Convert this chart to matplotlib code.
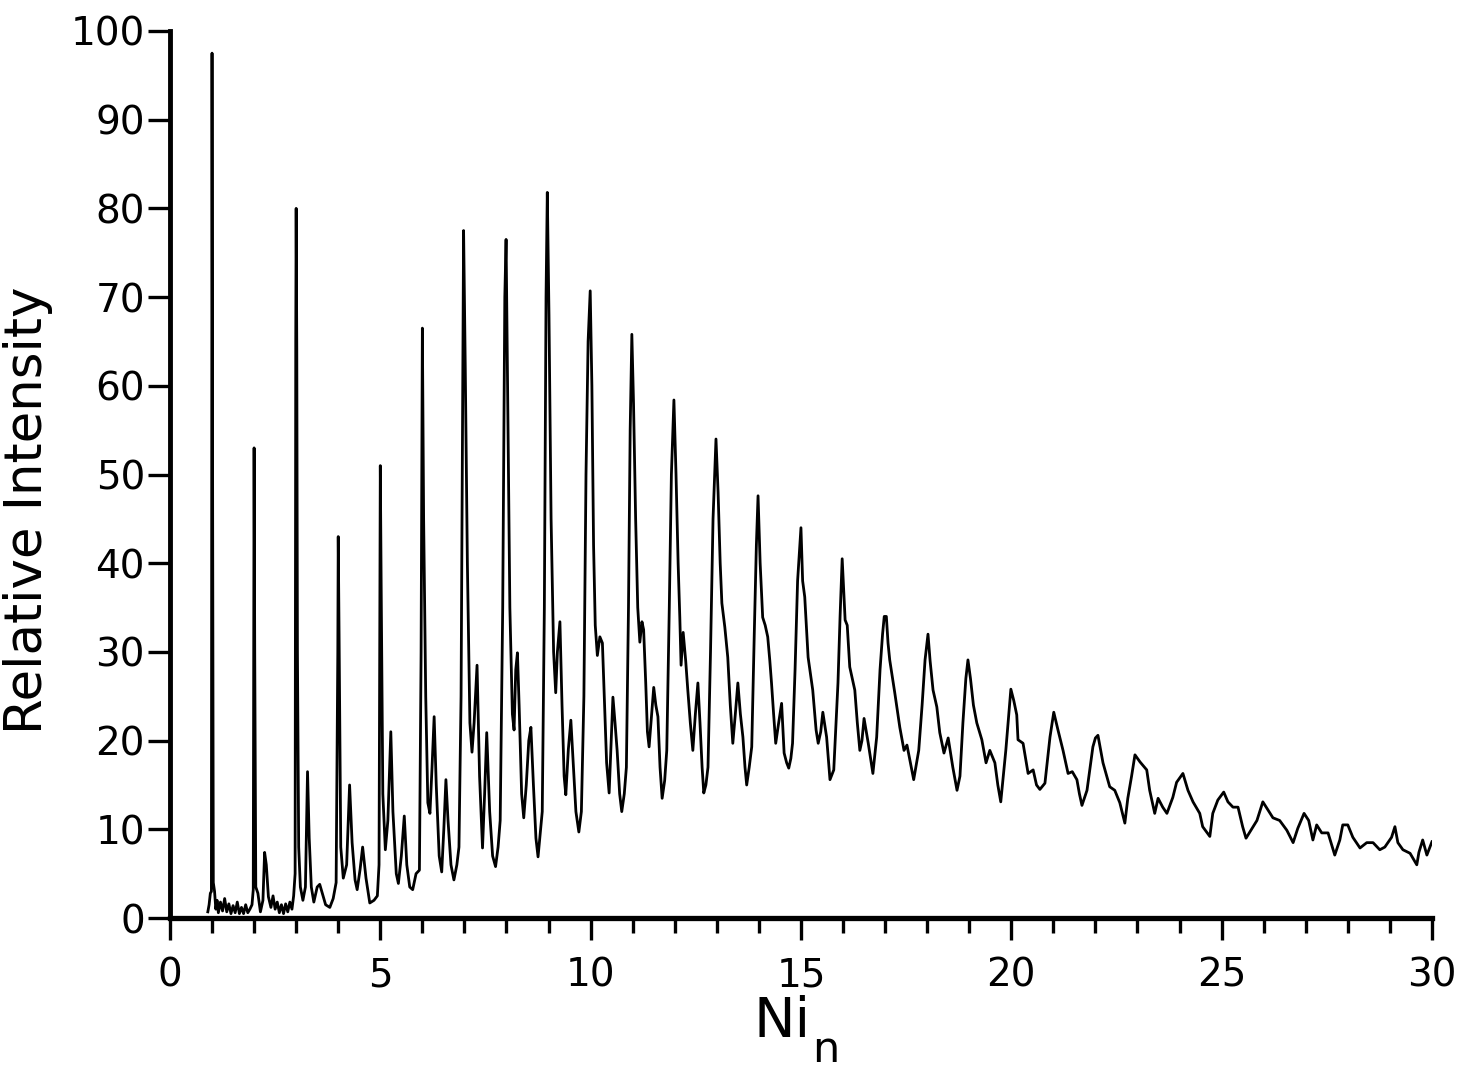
import matplotlib
matplotlib.use("Agg")
import matplotlib.pyplot as plt
from matplotlib.ticker import MultipleLocator

plt.rcParams['font.family'] = ['DejaVu Sans']

# Trace: Ni_1 .. Ni_6
low_x = [0.90, 0.93, 0.96, 0.985, 1.0, 1.015, 1.03, 1.06, 1.09, 1.12, 1.15, 1.2, 1.25, 1.3, 1.35,
         1.4, 1.45, 1.5, 1.55, 1.6, 1.65, 1.7, 1.75, 1.8, 1.85, 1.9, 1.95, 1.98, 2.0, 2.015,
         2.04, 2.09, 2.15, 2.21, 2.25, 2.29, 2.34, 2.4, 2.45, 2.5, 2.55, 2.6, 2.65, 2.7, 2.75,
         2.8, 2.85, 2.9, 2.94, 2.975, 2.99, 3.0, 3.015, 3.03, 3.06, 3.1, 3.16, 3.22, 3.27, 3.31,
         3.36, 3.42, 3.5, 3.56, 3.62, 3.7, 3.8, 3.88, 3.95, 3.99, 4.0, 4.02, 4.06, 4.12, 4.2,
         4.27, 4.33, 4.4, 4.45, 4.52, 4.58, 4.66, 4.75, 4.85, 4.93, 4.97, 5.0, 5.02, 5.06, 5.12,
         5.18, 5.25, 5.3, 5.38, 5.43, 5.5, 5.57, 5.63, 5.7, 5.77, 5.85, 5.93, 5.97]
low_y = [0.7, 1.5, 2.8, 3.0, 97.5, 45, 4.0, 3.0, 1.0, 2.0, 0.6, 1.8, 0.8, 2.2, 0.7,
         1.6, 0.5, 1.4, 0.6, 1.8, 0.5, 1.2, 0.5, 1.5, 0.6, 1.0, 1.5, 3.2, 53, 30,
         3.5, 2.8, 0.7, 2.0, 7.4, 6.0, 2.4, 1.2, 2.5, 1.0, 1.8, 0.6, 1.5, 0.5, 1.6,
         0.7, 1.8, 1.0, 2.5, 5, 65, 80, 64, 30, 8, 3.5, 2.0, 3.5, 16.5, 9,
         3.5, 1.8, 3.5, 3.8, 2.8, 1.5, 1.2, 2.2, 4.0, 30, 43, 32, 8, 4.5, 6,
         15, 8.5, 4.3, 3.2, 5.5, 8, 4.5, 1.7, 2.0, 2.5, 6, 51, 38, 14, 7.7,
         11, 21, 12, 5, 3.9, 7, 11.5, 6, 3.5, 3.2, 5.0, 5.4, 30]

# Ni_6 .. Ni_15
mid_x = [6.0, 6.03, 6.08, 6.13, 6.18, 6.23, 6.28, 6.33, 6.4, 6.46, 6.51, 6.56, 6.61, 6.68, 6.75,
         6.82, 6.87, 6.92, 6.96, 6.98, 7.02, 7.07, 7.13, 7.18, 7.23, 7.3, 7.36, 7.43, 7.48, 7.53,
         7.6, 7.67, 7.74, 7.8, 7.85, 7.91, 7.96, 7.99, 8.03, 8.08, 8.14, 8.18, 8.22, 8.26, 8.3,
         8.36, 8.41, 8.47, 8.53, 8.58, 8.64, 8.7, 8.75, 8.8, 8.85, 8.9, 8.94, 8.97, 9.01, 9.06,
         9.12, 9.17, 9.21, 9.27, 9.32, 9.37, 9.41, 9.47, 9.53, 9.58, 9.65, 9.72, 9.78, 9.84, 9.89,
         9.94, 9.99, 10.03, 10.07, 10.11, 10.16, 10.22, 10.28, 10.34, 10.38, 10.44, 10.49, 10.53,
         10.58, 10.63, 10.69, 10.74, 10.8, 10.85, 10.9, 10.94, 10.98, 11.02, 11.07, 11.12, 11.17,
         11.22, 11.26, 11.31, 11.35, 11.39, 11.45, 11.5, 11.55, 11.6, 11.65, 11.7, 11.76, 11.81,
         11.87, 11.92, 11.98, 12.03, 12.08, 12.12, 12.15, 12.2, 12.26, 12.31, 12.37, 12.43, 12.49,
         12.55, 12.6, 12.65, 12.69, 12.74, 12.79, 12.85, 12.91, 12.98, 13.03, 13.08, 13.12, 13.19,
         13.26, 13.32, 13.38, 13.44, 13.5, 13.56, 13.62, 13.67, 13.71, 13.77, 13.83, 13.89, 13.94,
         13.98, 14.03, 14.09, 14.15, 14.21, 14.26, 14.3, 14.35, 14.4, 14.47, 14.54, 14.6, 14.66,
         14.71, 14.76, 14.8, 14.86, 14.92]
mid_y = [66.5, 45, 25, 13, 11.8, 17, 22.7, 15, 7, 5.2, 10, 15.6, 11, 6, 4.3,
         6, 8, 25, 60, 77.5, 62, 40, 22, 18.7, 22, 28.5, 16, 7.9, 14, 20.9,
         12, 7, 5.8, 8, 11, 35, 70, 76.5, 58, 35, 23, 21.2, 28, 29.9, 24,
         14, 11.3, 15, 20, 21.5, 15, 9, 6.9, 9.5, 12, 35, 70, 81.8, 68, 45,
         30, 25.4, 30, 33.4, 24, 16, 13.9, 19, 22.3, 18, 12, 9.7, 12, 25, 50,
         65, 70.7, 60, 42, 33, 29.6, 31.7, 31.0, 23, 17.5, 14.1, 20, 24.9,
         22, 18.9, 14, 12.0, 14, 17, 35, 55, 65.8, 58, 45, 35, 31.1,
         33.4, 32.5, 26.5, 21, 19.3, 23, 26.0, 24, 22.7, 17, 13.5, 15.5, 18.9,
         35, 50, 58.4, 50, 40, 33.9, 28.5, 32.2, 29, 25.7, 22, 18.9, 23,
         26.5, 22.0, 17, 14.1, 15, 17.0, 30, 45, 54, 48, 40, 35.5, 32.8,
         29.4, 24, 19.7, 23, 26.5, 23, 20.4, 17, 15.0, 17, 19.3, 32, 42,
         47.6, 40, 33.9, 33, 31.7, 29, 26.5, 23, 19.7, 22, 24.2, 18.6, 17.5,
         16.9, 18, 19.7, 28, 38]

# Ni_15 .. Ni_30
high_x = [15.0, 15.04, 15.09, 15.17, 15.28, 15.36, 15.41, 15.47, 15.52, 15.61, 15.69, 15.78, 15.88,
          15.93, 15.98, 16.05, 16.1, 16.16, 16.28, 16.34, 16.4, 16.45, 16.5, 16.6, 16.71, 16.8,
          16.88, 16.94, 16.98, 17.03, 17.07, 17.11, 17.23, 17.35, 17.45, 17.52, 17.59, 17.68, 17.8,
          17.88, 17.95, 18.02, 18.07, 18.14, 18.23, 18.3, 18.4, 18.5, 18.61, 18.71, 18.78, 18.85,
          18.92, 18.97, 19.03, 19.1, 19.18, 19.3, 19.4, 19.49, 19.61, 19.68, 19.75, 19.81, 19.87,
          19.94, 19.99, 20.06, 20.13, 20.16, 20.28, 20.4, 20.52, 20.6, 20.68, 20.8, 20.92, 21.01,
          21.11, 21.23, 21.35, 21.45, 21.56, 21.62, 21.68, 21.8, 21.94, 22.0, 22.06, 22.18, 22.34,
          22.46, 22.58, 22.7, 22.77, 22.86, 22.94, 23.06, 23.22, 23.29, 23.41, 23.49, 23.6, 23.7,
          23.84, 23.93, 24.08, 24.2, 24.32, 24.48, 24.55, 24.72, 24.79, 24.91, 25.05, 25.15, 25.27,
          25.39, 25.5, 25.58, 25.67, 25.84, 25.98, 26.1, 26.22, 26.38, 26.55, 26.7, 26.81, 26.96,
          27.07, 27.17, 27.26, 27.38, 27.53, 27.69, 27.81, 27.88, 28.0, 28.12, 28.29, 28.45, 28.6,
          28.76, 28.88, 29.04, 29.12, 29.19, 29.31, 29.48, 29.64, 29.69, 29.78, 29.88, 30.0]
high_y = [44, 38, 36.2, 29.4, 25.7, 21.2, 19.7, 21, 23.2, 20.4, 15.6, 16.7, 26.5,
          34, 40.5, 33.6, 33, 28.3, 25.7, 22, 18.9, 20, 22.5, 19.7, 16.3, 20.4,
          28.0, 32, 34, 34, 31, 29.1, 25.4, 21.5, 18.9, 19.5, 17.8, 15.6, 18.9,
          24, 29.1, 32, 29, 25.7, 23.8, 20.9, 18.6, 20.3, 17.0, 14.4, 16, 22,
          27, 29.1, 27, 24, 22.0, 20.1, 17.5, 18.9, 17.5, 15, 13.1, 16, 18.9,
          23, 25.8, 24.5, 22.9, 20.1, 19.7, 16.3, 16.7, 15, 14.5, 15.2, 20.4, 23.2,
          21.2, 18.9, 16.3, 16.5, 15.6, 14, 12.7, 14.4, 19.3, 20.3, 20.6, 17.5, 14.8,
          14.4, 13.0, 10.7, 13.5, 16, 18.4, 17.6, 16.7, 14.4, 11.8, 13.5, 12.5, 11.8,
          13.6, 15.3, 16.3, 14.4, 13.1, 11.8, 10.3, 9.2, 11.8, 13.3, 14.2, 13.1, 12.5,
          12.5, 10.3, 9.0, 9.7, 11.0, 13.1, 12.2, 11.3, 11.0, 9.9, 8.5, 10.1, 11.8,
          11.0, 8.8, 10.5, 9.6, 9.6, 7.1, 8.8, 10.5, 10.5, 9.1, 7.9, 8.5, 8.5,
          7.7, 8.0, 9.1, 10.3, 8.5, 7.7, 7.3, 6.0, 7.4, 8.8, 7.1, 8.6]

x = low_x + mid_x + high_x
y = low_y + mid_y + high_y

fig = plt.figure(figsize=(14.64, 10.75), dpi=100)
ax = fig.add_axes([0.1161, 0.146, 0.862, 0.8252])

ax.plot(x, y, color='black', lw=2.0)

ax.set_xlim(0, 30)
ax.set_ylim(0, 100)
ax.xaxis.set_major_locator(MultipleLocator(5))
ax.xaxis.set_minor_locator(MultipleLocator(1))
ax.yaxis.set_major_locator(MultipleLocator(10))

for side in ['top', 'right']:
    ax.spines[side].set_visible(False)
ax.spines['left'].set_linewidth(3.5)
ax.spines['bottom'].set_linewidth(3.8)

ax.tick_params(axis='both', which='major', direction='out', length=16, width=2.4,
               labelsize=28)
ax.tick_params(axis='y', which='major', pad=2)
ax.tick_params(axis='x', which='major', pad=12)
ax.tick_params(axis='x', which='minor', direction='out', length=11, width=2.4)

ax.set_ylabel('Relative Intensity', fontsize=37)
ax.yaxis.set_label_coords(-0.093, 0.46)
ax.set_xlabel('Ni', fontsize=40)
ax.xaxis.set_label_coords(0.485, -0.087)
ax.xaxis.label.set_va('top')
# subscript drawn as its own text so it keeps a large size
ax.text(0.52, -0.162, 'n', transform=ax.transAxes, fontsize=31,
        ha='center', va='baseline')

fig.savefig('out.png', dpi=100, facecolor='white')
